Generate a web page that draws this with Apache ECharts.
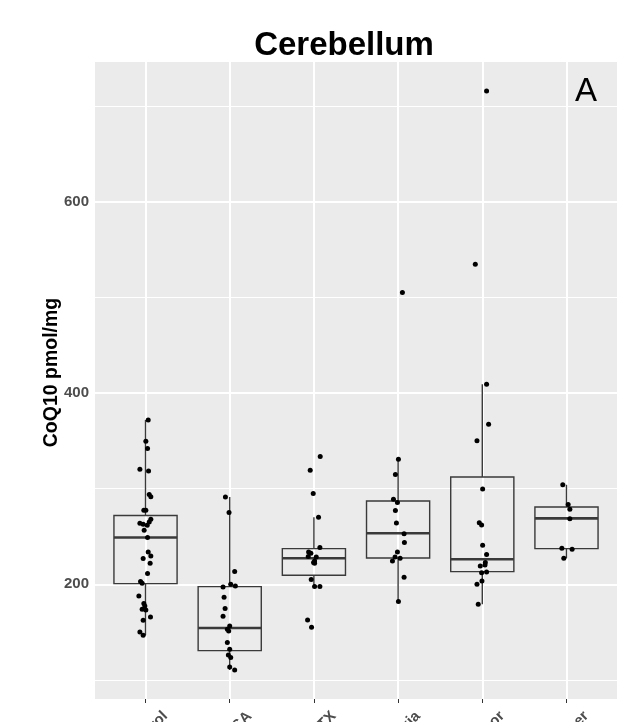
<!DOCTYPE html>
<html>
<head>
<meta charset="utf-8">
<script src="https://cdn.jsdelivr.net/npm/echarts@6/dist/echarts.min.js"></script>
<style>
  html, body { margin: 0; background: #fff; }
  #chart { width: 637px; height: 722px; }
</style>
</head>
<body>
<div id="chart"></div>
<script>
// 小脑 CoQ10 箱线图 + 抖动散点
const groups = ['Control', 'MSA', 'ATX', 'Ataxia', 'Tremor', 'Other']

// [min, Q1, median, Q3, max] of each box (whisker ends, no outliers)
const boxStats = [
  [146.6, 200.7, 248.9, 271.9, 371.9],
  [110.3, 130.6, 154.3, 197.6, 291.3],
  [197.6, 209.4, 227.2, 237.3, 270.1],
  [181.9, 227.5, 253.4, 287.2, 330.8],
  [179.1, 213.3, 226.2, 312.2, 409.3],
  [227.2, 237.3, 269.0, 280.9, 304.1],
]

// jittered points: [x offset from group centre, CoQ10]
const ptsControl = [
  [0.032, 371.9], [0.004, 349.6], [0.024, 342], [-0.067, 320.3], [0.036, 318.6],
  [0.044, 294], [0.063, 291.7], [-0.02, 277.4], [0.004, 277.4], [-0.067, 263.8],
  [-0.028, 262.8], [0.02, 261.7], [0.063, 268], [0.044, 265.2], [-0.016, 256.5],
  [0.024, 248.9], [0.032, 233.8], [0.063, 229.6], [-0.028, 226.9], [0.055, 222],
  [0.024, 211.2], [-0.059, 202.8], [-0.04, 201], [-0.079, 187.8], [-0.02, 180],
  [-0.008, 177.3], [-0.04, 173.8], [0.004, 173.1], [0.059, 165.8], [-0.028, 162.3],
  [-0.067, 150.1], [-0.028, 146.6],
]
const ptsMSA = [
  [-0.051, 291.3], [-0.008, 275], [0.059, 213.3], [0.012, 200], [0.067, 198.3],
  [-0.079, 197.2], [-0.067, 186.4], [-0.055, 174.6], [-0.079, 166.5], [0, 156.4],
  [-0.028, 152.9], [-0.012, 151.1], [-0.028, 139], [0, 132], [-0.016, 126],
  [0.012, 123.3], [0, 113.5], [0.059, 110.3],
]
const ptsATX = [
  [0.075, 333.6], [-0.044, 319.3], [-0.008, 295], [0.055, 270.1], [0.071, 238.4],
  [-0.063, 233.8], [-0.036, 232.4], [0.028, 228.6], [-0.067, 229], [0.008, 224.4],
  [0.008, 222], [-0.004, 222.7], [-0.032, 204.9], [0.008, 197.6], [0.071, 197.6],
  [-0.075, 162.7], [-0.028, 155],
]
const ptsAtaxia = [
  [0.051, 505.2], [0.004, 330.8], [-0.032, 314.8], [-0.055, 288.9], [-0.008, 285.5],
  [-0.032, 277.1], [-0.02, 264.1], [0.071, 253], [0.075, 243.6], [-0.008, 233.8],
  [-0.036, 228.6], [0.024, 227.2], [-0.067, 224.4], [0.071, 207.3], [0.004, 181.9],
]
const ptsTremor = [
  [0.051, 716.1], [-0.083, 534.8], [0.051, 409.3], [0.075, 367.4], [-0.063, 350.3],
  [0.004, 299.7], [-0.036, 264.5], [-0.008, 262], [0.004, 240.8], [0.051, 231.1],
  [0.036, 222.7], [0.032, 220.3], [-0.024, 219.2], [0.051, 212.9], [-0.008, 212.2],
  [-0.004, 203.5], [-0.063, 200], [-0.048, 179.1],
]
const ptsOther = [
  [-0.044, 304.1], [0.02, 283.4], [0.04, 278.5], [0.04, 268.7], [-0.055, 237.7],
  [0.067, 236.6], [-0.032, 227.2],
]
const groupPoints = [ptsControl, ptsMSA, ptsATX, ptsAtaxia, ptsTremor, ptsOther]

const yTicks = [200, 400, 600]
const yMinor = [100, 300, 500, 700]
const yMin = 80
const yMax = 746.4

const FONT = 'Liberation Sans, Arial, Helvetica, sans-serif'
const boxWidth = 0.75
const lineColor = '#3a3a3a'

const chart = echarts.init(document.getElementById('chart'), null, { renderer: 'canvas' })

const scatterData = []
groupPoints.forEach((pts, i) => {
  pts.forEach(([dx, v]) => scatterData.push([i + dx, v]))
})

function renderBox(params, api) {
  const i = api.value(0)
  const lo = api.coord([i, api.value(1)])
  const q1 = api.coord([i, api.value(2)])
  const md = api.coord([i, api.value(3)])
  const q3 = api.coord([i, api.value(4)])
  const hi = api.coord([i, api.value(5)])
  const half = api.size([boxWidth, 0])[0] / 2
  const x = q1[0]
  const st = { stroke: lineColor, lineWidth: 1.4, fill: null }
  return {
    type: 'group',
    children: [
      { type: 'line', shape: { x1: x, y1: hi[1], x2: x, y2: q3[1] }, style: st },
      { type: 'line', shape: { x1: x, y1: q1[1], x2: x, y2: lo[1] }, style: st },
      { type: 'rect', shape: { x: x - half, y: q3[1], width: half * 2, height: q1[1] - q3[1] },
        style: { stroke: lineColor, lineWidth: 1.4, fill: 'rgba(0,0,0,0)' } },
      { type: 'line', shape: { x1: x - half, y1: md[1], x2: x + half, y2: md[1] },
        style: { stroke: lineColor, lineWidth: 2.6 } },
    ],
  }
}

chart.setOption({
  animation: false,
  backgroundColor: '#fff',
  title: [
    { text: 'Cerebellum', left: 339, top: 24, textAlign: 'center',
      textStyle: { fontFamily: FONT, fontSize: 33, fontWeight: 'bold', color: '#000' } },
    { text: 'A', left: 570, top: 70,
      textStyle: { fontFamily: FONT, fontSize: 33, fontWeight: 'normal', color: '#000' } },
  ],
  grid: { left: 95, right: 20, top: 62, bottom: 23, show: true,
    outerBoundsMode: 'none', containLabel: false,
    backgroundColor: '#ebebeb', borderWidth: 0 },
  xAxis: {
    type: 'value', min: -0.6, max: 5.6,
    axisLine: { show: false },
    splitLine: { show: false },
    axisTick: { show: true, length: 4, customValues: [0, 1, 2, 3, 4, 5],
      lineStyle: { color: '#333', width: 1 } },
    axisLabel: {
      customValues: [0, 1, 2, 3, 4, 5],
      formatter: (v) => groups[Math.round(v)],
      rotate: 45, margin: -5, verticalAlign: 'top', lineHeight: 56,
      fontFamily: FONT, fontSize: 15, fontWeight: 'bold', color: '#4d4d4d',
    },
  },
  yAxis: {
    type: 'value', min: yMin, max: yMax,
    name: 'CoQ10 pmol/mg', nameLocation: 'middle', nameGap: 33, nameRotate: 90,
    nameMoveOverlap: false,
    nameTextStyle: { fontFamily: FONT, fontSize: 19.5, fontWeight: 'bold', color: '#000',
      padding: [0, 0, 0, 16] },
    axisLine: { show: false },
    splitLine: { show: false },
    axisTick: { show: true, length: 4, customValues: yTicks,
      lineStyle: { color: '#333', width: 1 } },
    axisLabel: { customValues: yTicks, margin: 6,
      fontFamily: FONT, fontSize: 15, fontWeight: 'bold', color: '#4d4d4d' },
  },
  series: [
    {
      // panel grid lines
      type: 'line', data: [], z: 1, silent: true,
      markLine: {
        z: 1, silent: true, symbol: 'none', animation: false,
        label: { show: false },
        lineStyle: { color: '#fff', type: 'solid', width: 2 },
        data: [
          ...yMinor.map((v) => ({ yAxis: v, lineStyle: { width: 1, color: '#fff', type: 'solid' } })),
          ...yTicks.map((v) => ({ yAxis: v, lineStyle: { width: 2, color: '#fff', type: 'solid' } })),
          ...groups.map((g, i) => ({ xAxis: i, lineStyle: { width: 2, color: '#fff', type: 'solid' } })),
        ],
      },
    },
    {
      type: 'custom', z: 2, silent: true,
      renderItem: renderBox,
      encode: { x: 0, y: [1, 2, 3, 4, 5] },
      data: boxStats.map((s, i) => [i, ...s]),
    },
    {
      type: 'scatter', z: 3, silent: true,
      symbolSize: 5,
      itemStyle: { color: '#000', opacity: 1 },
      data: scatterData,
    },
  ],
})
</script>
</body>
</html>
